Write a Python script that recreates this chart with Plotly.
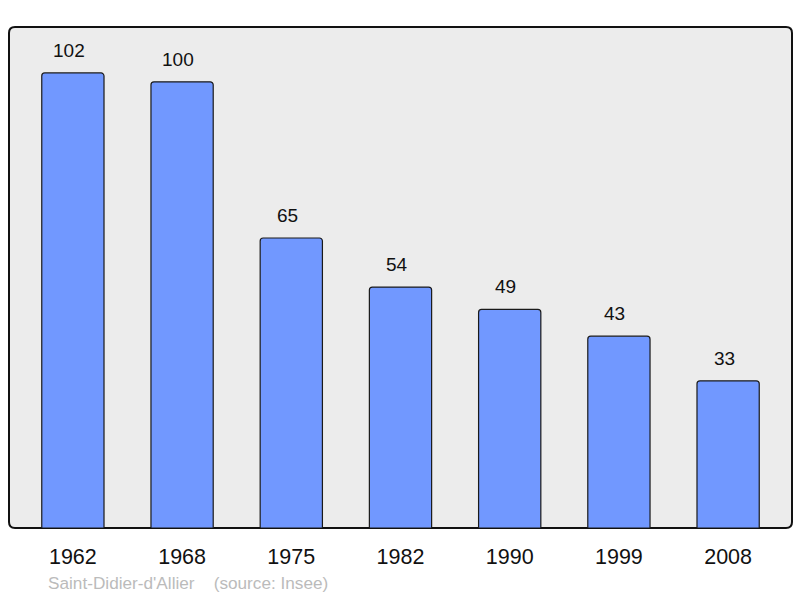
import plotly.graph_objects as go

years = ["1962", "1968", "1975", "1982", "1990", "1999", "2008"]
population = [102, 100, 65, 54, 49, 43, 33]
footer = "Saint-Didier-d'Allier    (source: Insee)"

W, H = 800, 598
L, R, T, B = 9, 8, 27, 70
FONT = "Liberation Sans, Arial, sans-serif"

fig = go.Figure()
fig.add_trace(go.Bar(
    x=list(range(len(years))), y=population,
    width=0.57,
    marker=dict(color="#7198ff", line=dict(color="#1a1a1a", width=1.2), cornerradius=3),
    hoverinfo="skip",
))

for i, v in enumerate(population):
    fig.add_annotation(x=i, y=v, xref="x", yref="y", text=str(v), showarrow=False,
                       yanchor="bottom", yshift=10, xshift=-4,
                       font=dict(family=FONT, size=19, color="#111"))

# rounded frame in paper coordinates
pw, ph = W - L - R, H - T - B
rx, ry = 6 / pw, 6 / ph
path = (f"M {rx},0 L {1-rx},0 Q 1,0 1,{ry} L 1,{1-ry} Q 1,1 {1-rx},1 "
        f"L {rx},1 Q 0,1 0,{1-ry} L 0,{ry} Q 0,0 {rx},0 Z")
fig.add_shape(type="path", path=path, xref="paper", yref="paper",
              fillcolor="#ececec", line=dict(color="#111", width=2), layer="below")

fig.add_annotation(xref="paper", yref="paper", x=(46 - L) / pw, y=-(583 - (H - B)) / ph,
                   text=footer, showarrow=False, xanchor="left", yanchor="middle",
                   font=dict(family=FONT, size=17.2, color="#bbbbbb"))

fig.update_layout(
    width=W, height=H,
    margin=dict(l=L, r=R, t=T, b=B),
    paper_bgcolor="white",
    plot_bgcolor="rgba(0,0,0,0)",
    showlegend=False,
    xaxis=dict(range=[-0.585, 6.585], showgrid=False, zeroline=False, showline=False,
               ticks="", ticklabelstandoff=13, tickmode="array",
               tickvals=list(range(len(years))), ticktext=years,
               tickfont=dict(family=FONT, size=21.5, color="#111")),
    yaxis=dict(range=[0, 112.3], showgrid=False, zeroline=False, showline=False,
               showticklabels=False, ticks=""),
)

fig.write_html("out.html", config={"displayModeBar": False},
               post_script="document.body.style.margin='0';")
